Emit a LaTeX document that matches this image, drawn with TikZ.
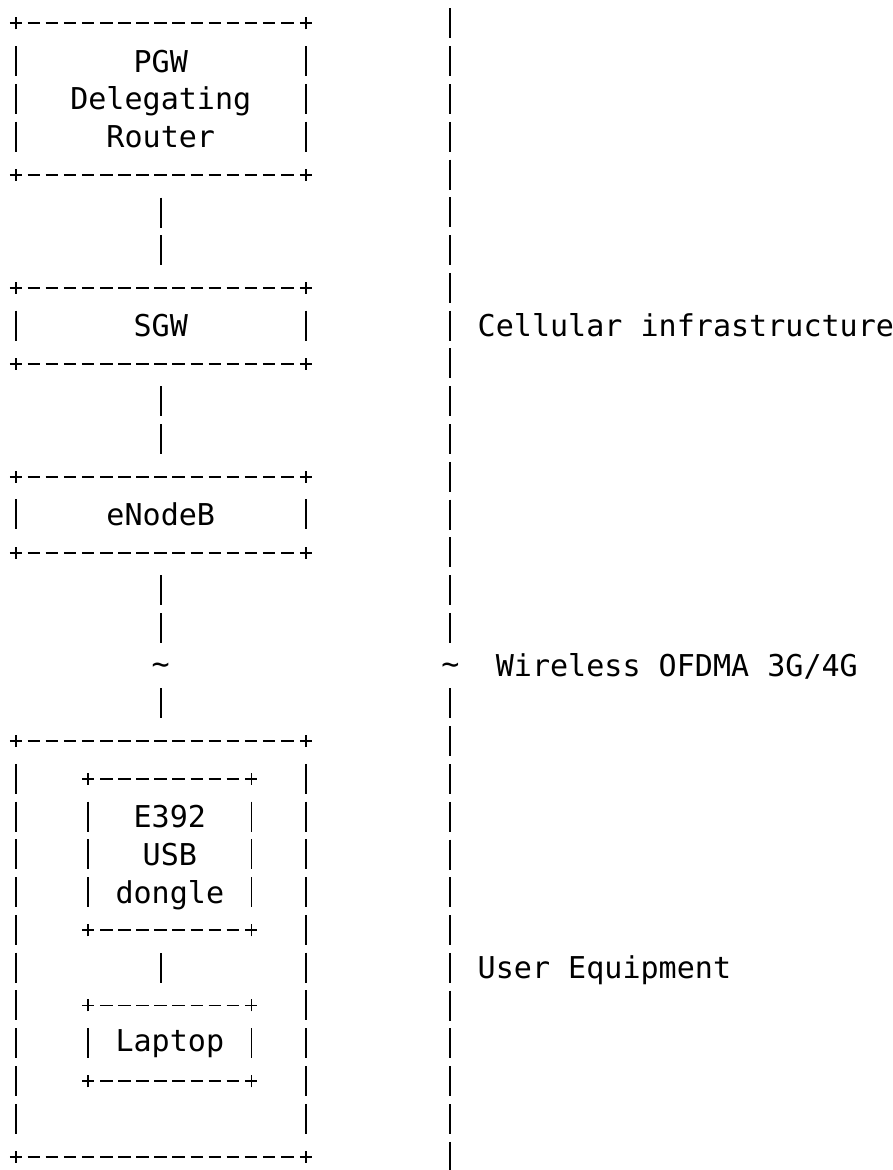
\documentclass[tikz,border=0pt]{standalone}
\usepackage{fontspec}
\newfontfamily\asciifont{DejaVu Sans Mono}
\usepackage{tikz}

\begin{document}
\begin{tikzpicture}
[x=18.1pt,y=37.78pt,
  boxDecorate/.style={shape=rectangle,inner sep=0pt,align=center,
    font=\asciifont\fontsize{30.07pt}{37.78pt}\selectfont},%
  hLineDecorate/.style={line width=1.9pt,dash pattern=on 12.5pt off 5.6pt,
    shorten <=11.85pt,shorten >=11.85pt},%
  vLineDecorate/.style={line width=1.9pt,dash pattern=on 30pt off 7.78pt,
    shorten <=22.78pt,shorten >=22.78pt},%
  plusDecorate/.style={line width=1.9pt},%
  tildeDecorate/.style={inner sep=0pt,text height=18pt,text depth=0pt,
    font=\asciifont\fontsize{30.07pt}{37.78pt}\selectfont},%
  labelDecorate/.style={anchor=west,inner sep=0pt,text height=21.9pt,text depth=0pt,
    font=\asciifont\fontsize{30.07pt}{37.78pt}\selectfont}]
\useasboundingbox (-0.884,0.622) rectangle (48.45,-30.35);
%% boxes
\node (pgw) at (8,-2) [boxDecorate,minimum width=289.6pt,minimum height=151.12pt]
  {PGW\\Delegating\\Router};
\node (sgw) at (8,-8) [boxDecorate,minimum width=289.6pt,minimum height=75.56pt] {SGW};
\node (enb) at (8,-13) [boxDecorate,minimum width=289.6pt,minimum height=75.56pt] {eNodeB};
\node (ue) at (8,-24.5) [boxDecorate,minimum width=289.6pt,minimum height=415.58pt] {};
\node (dongle) at (8.5,-22) [boxDecorate,text depth=0pt,minimum width=162.9pt,minimum height=151.12pt]
  {E392\\USB\\dongle};
\node (laptop) at (8.5,-27) [boxDecorate,minimum width=162.9pt,minimum height=75.56pt] {Laptop};
\foreach \b in {pgw,sgw,enb,ue,dongle,laptop} {
  \draw[hLineDecorate] (\b.north west) -- (\b.north east);
  \draw[hLineDecorate] (\b.south west) -- (\b.south east);
  \draw[vLineDecorate] (\b.north west) -- (\b.south west);
  \draw[vLineDecorate] (\b.north east) -- (\b.south east);
  \foreach \c in {north west,north east,south west,south east}
    \draw[plusDecorate] (\b.\c) +(-6pt,0) -- +(6pt,0) +(0,-6pt) -- +(0,6pt);
}
%% wireless breaks
\node (wlL) at (8,-17) [tildeDecorate] {\char`\~};
\node (wlR) at (24,-17) [tildeDecorate] {\char`\~};
\coordinate (rtop) at (24,0.397);
\coordinate (rbot) at (24,-30.397);
%% links
\draw[vLineDecorate] (pgw.south) -- (sgw.north);
\draw[vLineDecorate] (sgw.south) -- (enb.north);
\draw[vLineDecorate] (enb.south) -- (wlL.center);
\draw[vLineDecorate] (wlL.center) -- (ue.north);
\draw[vLineDecorate] (dongle.south -| ue.north) -- (laptop.north -| ue.north);
%% divider
\draw[vLineDecorate,shorten <=0pt] (rtop) -- (wlR.center);
\draw[vLineDecorate,shorten >=0pt] (wlR.center) -- (rbot);
%% labels
\node (cell) at (25.5,-8) [labelDecorate] {Cellular infrastructure};
\node (wless) at (26.5,-17) [labelDecorate] {Wireless OFDMA 3G/4G};
\node (uequip) at (25.5,-25) [labelDecorate] {User Equipment};
\end{tikzpicture}
\end{document}
